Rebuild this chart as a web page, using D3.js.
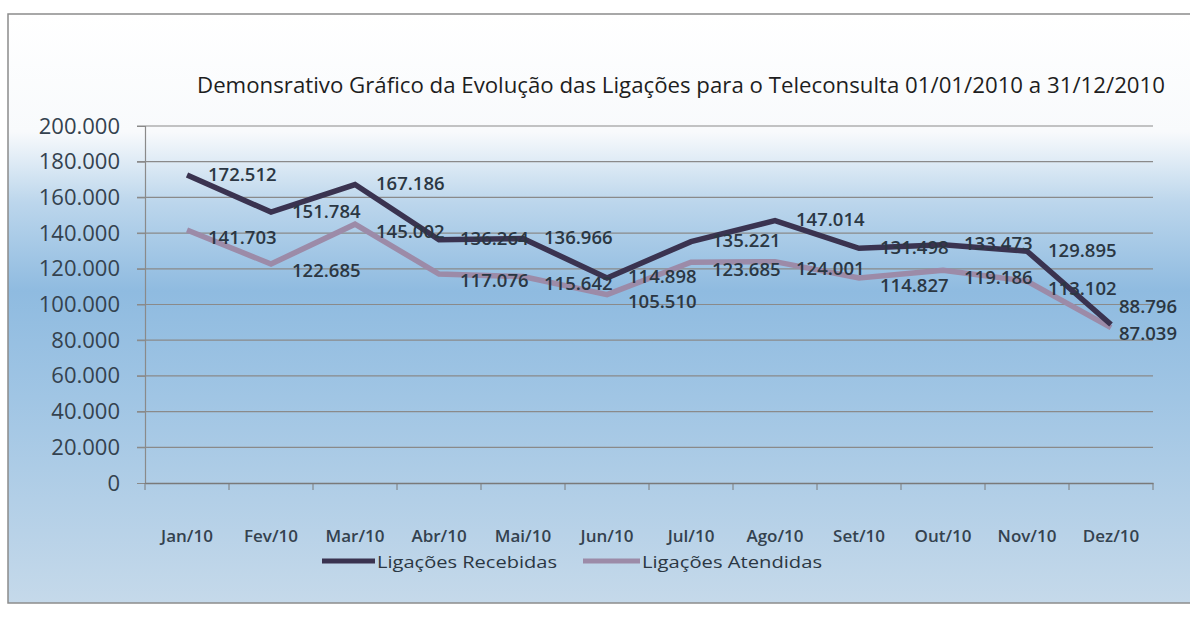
<!DOCTYPE html>
<html>
<head>
<meta charset="utf-8">
<script src="https://cdn.jsdelivr.net/npm/d3@7"></script>
<style>
  body { margin: 0; background: #fff; }
  text { font-family: "Open Sans", "Noto Sans", sans-serif; }
</style>
</head>
<body>
<script>
// data
var months = ["Jan/10","Fev/10","Mar/10","Abr/10","Mai/10","Jun/10","Jul/10","Ago/10","Set/10","Out/10","Nov/10","Dez/10"];
var recebidas = [172512, 151784, 167186, 136264, 136966, 114898, 135221, 147014, 131498, 133473, 129895, 88796];
var atendidas = [141703, 122685, 145002, 117076, 115642, 105510, 123685, 124001, 114827, 119186, 113102, 87039];
var yTicks = [0, 20000, 40000, 60000, 80000, 100000, 120000, 140000, 160000, 180000, 200000];
var seriesNames = ["Ligações Recebidas", "Ligações Atendidas"];
var title = "Demonsrativo Gráfico da Evolução das Ligações para o Teleconsulta 01/01/2010 a 31/12/2010";

var width = 1190, height = 617;
var ptBR = d3.formatLocale({decimal: ",", thousands: ".", grouping: [3], currency: ["R$", ""]});
var fmt = ptBR.format(",d");

var svg = d3.select("body").append("svg").attr("width", width).attr("height", height);

// background gradient of the chart frame
var grad = svg.append("defs").append("linearGradient")
    .attr("id", "bg").attr("x1", 0).attr("y1", 0).attr("x2", 0).attr("y2", 1);
grad.append("stop").attr("offset", "0%").attr("stop-color", "#ffffff");
grad.append("stop").attr("offset", "20%").attr("stop-color", "#f8fafc");
grad.append("stop").attr("offset", "32%").attr("stop-color", "#bcd6ec");
grad.append("stop").attr("offset", "47%").attr("stop-color", "#8fbbe0");
grad.append("stop").attr("offset", "65%").attr("stop-color", "#a0c5e4");
grad.append("stop").attr("offset", "100%").attr("stop-color", "#c5d9ea");

svg.append("rect").attr("x", 8).attr("y", 14).attr("width", 1200).attr("height", 589)
   .attr("fill", "url(#bg)").attr("stroke", "#8c8c8c").attr("stroke-width", 1.5);

var margin = {left: 145, top: 126, right: 37, bottom: 134};
var w = width - margin.left - margin.right;   // 1008
var h = height - margin.top - margin.bottom;  // 357

var x = d3.scaleBand().domain(months).range([0, w]);
var y = d3.scaleLinear().domain([0, 200000]).range([h, 0]);

var g = svg.append("g").attr("transform", "translate(" + margin.left + "," + margin.top + ")");

// gridlines
g.selectAll(".grid").data(yTicks.slice(1)).enter().append("line")
  .attr("x1", -8).attr("x2", w)
  .attr("y1", function(d){ return y(d); }).attr("y2", function(d){ return y(d); })
  .attr("stroke", "#8a8a8a").attr("stroke-width", 1.2);

// y axis
var yAxis = d3.axisLeft(y).tickValues(yTicks).tickSize(8).tickPadding(17)
  .tickFormat(function(d){ return fmt(d); });
var ya = g.append("g").call(yAxis);
ya.select(".domain").attr("stroke", "#8a8a8a").attr("stroke-width", 1.2);
ya.selectAll(".tick line").attr("stroke", "#8a8a8a");
ya.selectAll("text").attr("font-size", 22).attr("fill", "#34424f");

// x axis, ticks between categories
var xa = g.append("g").attr("transform", "translate(0," + h + ")")
  .call(d3.axisBottom(x).tickSize(0).tickPadding(47));
xa.select(".domain").attr("stroke", "#7a7a7a").attr("stroke-width", 1.5);
xa.selectAll("text").attr("font-size", 17).attr("font-weight", 600).attr("fill", "#34424f");
xa.selectAll(".between").data(d3.range(months.length + 1)).enter().append("line")
  .attr("x1", function(i){ return i * x.step(); }).attr("x2", function(i){ return i * x.step(); })
  .attr("y1", 0).attr("y2", 7).attr("stroke", "#7a7a7a");

var cx = function(d, i){ return x(months[i]) + x.bandwidth() / 2; };
var line = d3.line().x(cx).y(function(d){ return y(d); });

var colors = ["#3a3350", "#9c8ba8"];
var series = [recebidas, atendidas];

series.slice().reverse().forEach(function(s, k){
  var idx = series.length - 1 - k;
  g.append("path").attr("d", line(s)).attr("fill", "none")
    .attr("stroke", colors[idx]).attr("stroke-width", 5.5).attr("stroke-linejoin", "miter");
});

// data labels, to the right of each point; upper series nudged up, lower one down
var last = months.length - 1;
series.forEach(function(s, k){
  g.selectAll(null).data(s).enter().append("text")
    .attr("x", function(d, i){ return cx(d, i) + (i === last ? 8 : 21); })
    .attr("y", function(d, i){
      var nudge = k === 0 ? -1 : 7;
      if (i === last) nudge = k === 0 ? -18 : 6;
      return y(d) + nudge;
    })
    .attr("dy", "0.35em")
    .attr("font-size", 18.5).attr("font-weight", 600).attr("fill", "#2b3743")
    .text(function(d){ return fmt(d); });
});

// title
svg.append("text").attr("x", 197).attr("y", 93)
  .attr("textLength", 968).attr("lengthAdjust", "spacingAndGlyphs")
  .attr("font-size", 21).attr("fill", "#1e1e1e").text(title);

// legend
var legend = [{x: 322, w: 53}, {x: 583, w: 57}];
legend.forEach(function(l, i){
  svg.append("line").attr("x1", l.x).attr("x2", l.x + l.w).attr("y1", 561).attr("y2", 561)
    .attr("stroke", colors[i]).attr("stroke-width", 5);
  svg.append("text").attr("x", l.x + l.w + 2).attr("y", 568)
    .attr("font-size", 17).attr("fill", "#2b3743")
    .attr("textLength", 180).attr("lengthAdjust", "spacingAndGlyphs")
    .text(seriesNames[i]);
});
</script>
</body>
</html>
